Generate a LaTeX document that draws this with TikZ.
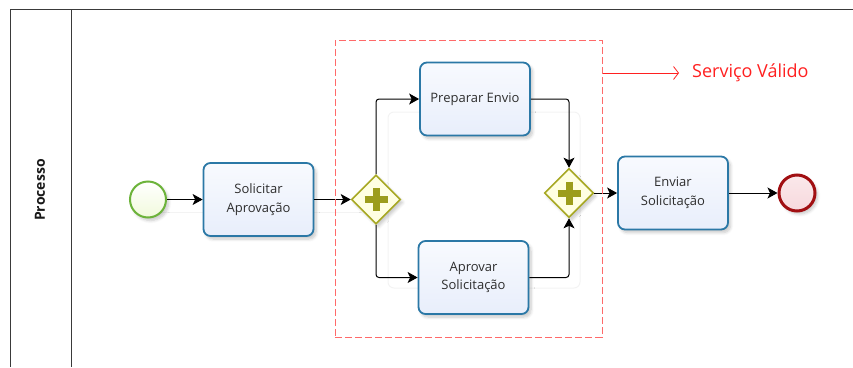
\documentclass[tikz,border=0pt]{standalone}
\usepackage{fontspec}
\setmainfont{Open Sans}
\usetikzlibrary{arrows.meta,shapes.geometric,shadows.blur,calc}

\definecolor{poolline}{HTML}{3A3A3A}
\definecolor{taskline}{HTML}{2B78A6}
\definecolor{tasktop}{HTML}{F8FAFE}
\definecolor{taskbottom}{HTML}{E8EEFB}
\definecolor{tasktext}{HTML}{2E2E2E}
\definecolor{gateline}{HTML}{A7A823}
\definecolor{gatefill}{HTML}{FFFFE2}
\definecolor{gateplus}{HTML}{9C9D1C}
\definecolor{startline}{HTML}{6CB33A}
\definecolor{startfill}{HTML}{F1FADB}
\definecolor{endline}{HTML}{A10F12}
\definecolor{endfill}{HTML}{F7D9DD}
\definecolor{groupline}{HTML}{FF6A6A}
\definecolor{grouptext}{HTML}{FF2020}
\definecolor{ghostline}{HTML}{F3F3F3}

% arrow tips used by the flows and the annotation
\tikzset{
  flowtip/.tip={Stealth[length=10pt,width=11pt,inset=2.5pt]},
  notetip/.tip={Straight Barb[length=5pt,width=13pt]}
}

\begin{document}
\begin{tikzpicture}[x=1pt,y=-1pt,
  pool/.style={draw=poolline,line width=1pt},
  softshadow/.style={blur shadow={shadow xshift=2.5pt,shadow yshift=-3pt,
      shadow blur steps=6,shadow blur radius=3pt,shadow opacity=22}},
  task/.style={draw=taskline,line width=1.8pt,rounded corners=7pt,
      top color=tasktop,bottom color=taskbottom,
      minimum width=110pt,minimum height=73pt,align=center,inner sep=2pt,
      font=\fontsize{13}{18.5}\selectfont,text=tasktext,softshadow},
  gateway/.style={diamond,draw=gateline,line width=1.6pt,fill=gatefill,
      minimum width=49pt,minimum height=49pt,inner sep=0pt,softshadow},
  plusbar/.style={draw=gateplus,line width=7pt},
  startev/.style={circle,draw=startline,line width=2pt,
      top color=white,bottom color=startfill,minimum size=36pt,inner sep=0pt,softshadow},
  endev/.style={circle,draw=endline,line width=3pt,
      top color=endfill!60,bottom color=endfill,minimum size=36pt,inner sep=0pt,softshadow},
  flow/.style={draw=black,line width=1pt,rounded corners=3pt,-flowtip},
  group/.style={draw=groupline,line width=1pt,dash pattern=on 7pt off 3pt,
      minimum width=267pt,minimum height=297pt,inner sep=0pt},
  annot/.style={draw=grouptext,line width=0.8pt,-notetip},
  ghost/.style={draw=ghostline,line width=1pt}
]
\useasboundingbox (0,0) rectangle (853,367);

% pool and lane frame
\draw[pool] (853,9) -- (10,9) -- (10,367);
\draw[pool] (71,9) -- (71,367);
\node[rotate=90,text=black!90,font=\bfseries\fontsize{14}{16}\selectfont] (lane) at (40,190) {Processo};

% faint guide lines behind the flow
\draw[ghost,rounded corners=6pt] (388,112) rectangle (580,288);
\draw[ghost] (150,212) -- (362,212);

% flow objects
\node[startev] (start) at (148,199.5) {};
\node[task] (solicitar) at (258.5,199.5) {Solicitar\\Aprovação};
\node[gateway] (fork) at (376,199.5) {};
\node[task] (preparar) at (475,99) {Preparar Envio};
\node[task] (aprovar) at (473.5,277.5) {Aprovar\\Solicitação};
\node[gateway] (join) at (569,193) {};
\node[task] (enviar) at (673,193) {Enviar\\Solicitação};
\node[endev] (end) at (797,193) {};

% parallel gateway markers
\foreach \g in {fork,join}{
  \draw[plusbar] ($(\g)+(-11.5,0)$) -- ($(\g)+(11.5,0)$);
  \draw[plusbar] ($(\g)+(0,-11.5)$) -- ($(\g)+(0,11.5)$);
}

% sequence flows
\draw[flow] (start) -- (solicitar);
\draw[flow] (solicitar.east) -- (fork.west);
\draw[flow] (fork.north) |- (preparar.west);
\draw[flow] (fork.south) |- (aprovar.west);
\draw[flow] (preparar.east) -| (join.north);
\draw[flow] (aprovar.east) -| (join.south);
\draw[flow] (join.east) -- (enviar.west);
\draw[flow] (enviar.east) -- (end.west);

% group with its annotation
\node[group] (grp) at (468.5,188.5) {};
\node[anchor=west,inner sep=0pt,text=grouptext,font=\fontsize{18}{21}\selectfont] (lbl) at (692,73) {Serviço Válido};
\draw[annot,shorten >=13pt] (grp.east |- lbl.west) -- (lbl.west);
\end{tikzpicture}
\end{document}
